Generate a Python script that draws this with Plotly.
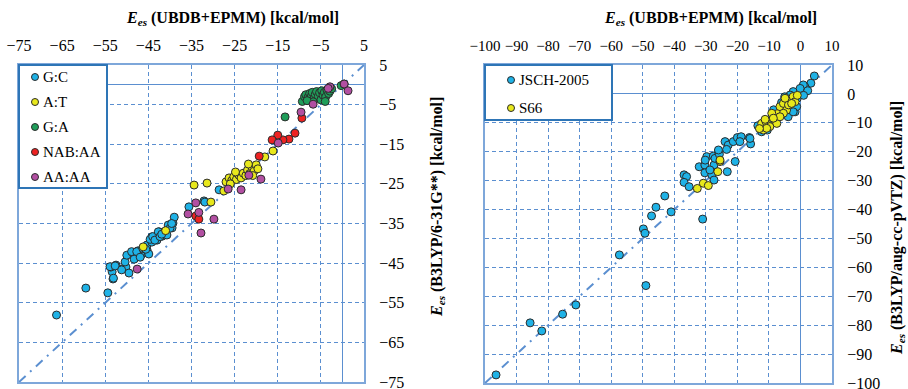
import plotly.graph_objects as go

# ---------------- data: left panel (B3LYP/6-31G** vs UBDB+EPMM) ----------------
gc_x = [-66.3, -59.5, -54.4, -53.2, -53.4, -53.7, -52.5, -51.1, -50.2, -50.4, -49.5, -50.0,
        -48.6, -48.1, -46.7, -47.4, -45.3, -44.9, -45.3, -44.2, -44.2, -43.0, -42.5, -41.8,
        -40.7, -39.5, -39.3, -39.0, -40.4, -35.6, -32.1, -28.6, -53.9, -52.7, -53.1, -51.2,
        -48.9, -48.3, -47.7, -46.9, -46.3, -45.6, -44.6, -44.0, -43.5, -42.7, -42.3, -41.9,
        -40.0, -39.6, -31.9]
gc_y = [-58.1, -51.3, -52.5, -49.0, -47.2, -46.0, -45.5, -46.5, -46.0, -44.7, -47.5, -43.0,
        -42.4, -43.7, -43.0, -41.9, -41.7, -42.7, -40.4, -39.7, -38.4, -39.2, -37.1, -38.2,
        -37.9, -36.1, -34.9, -33.4, -35.4, -30.8, -29.3, -26.5, -45.9, -45.7, -48.8, -46.7,
        -42.1, -44.0, -42.1, -43.5, -41.3, -41.5, -39.0, -38.3, -39.2, -37.1, -38.3, -37.7,
        -36.2, -35.0, -29.6]

at_x = [-34.4, -31.4, -30.5, -27.5, -18.0, -16.1, -41.0, -46.2, -33.6,
        -27.0, -26.3, -25.7, -25.2, -24.6, -24.0, -23.5, -23.0, -22.4, -22.0,
        -21.5, -21.0, -20.5, -20.0, -19.6, -21.8, -24.8, -26.0, -20.8]
at_y = [-25.3, -24.8, -29.6, -26.8, -18.2, -16.7, -36.8, -40.9, -33.0,
        -24.5, -23.5, -24.2, -23.2, -23.9, -22.8, -23.5, -22.3, -22.9, -21.5,
        -22.4, -20.7, -21.8, -20.2, -21.2, -20.0, -22.0, -25.0, -22.9]

ga_x = [-9.3, -8.8, -8.5, -8.0, -7.6, -7.2, -7.0, -6.6, -6.3, -6.0, -5.6, -5.3, -5.0, -4.8,
        -4.5, -4.2, -3.9, -3.6, -3.2, -2.9, -2.5, -4.0, -6.8, -8.2, -0.3, 0.4, -13.3]
ga_y = [-4.2, -3.0, -2.5, -3.2, -2.2, -2.8, -1.9, -3.5, -2.4, -1.7, -2.9, -2.0, -3.8, -1.5,
        -2.6, -1.9, -3.1, -1.3, -2.2, -1.6, -1.0, -4.2, -4.3, -4.0, -0.2, 0.2, -8.1]

nab_x = [-9.4, -11.0, -12.4, -13.8, -15.0, -16.3, -19.3, -34.0, -33.3]
nab_y = [-8.4, -12.2, -13.7, -13.9, -12.7, -13.9, -18.0, -33.1, -33.9]

aa_x = [-47.6, -35.8, -34.0, -33.3, -29.8, -32.8, -26.5, -23.5, -21.7, -18.9, -14.9,
        -9.6, -6.8, -2.9, -3.3, 0.4, 1.3]
aa_y = [-46.5, -32.6, -29.8, -32.2, -33.9, -37.4, -26.3, -26.5, -22.8, -23.8, -14.7,
        -6.9, -4.9, -0.5, -0.9, 0.2, -1.5]

# ---------------- data: right panel (B3LYP/aug-cc-pVTZ vs UBDB+EPMM) ----------------
jsch_x = [-96.5, -85.7, -82.0, -75.4, -71.2, -57.4, -49.0, -49.8, -49.3, -47.2, -45.8, -43.0,
          -41.0, -36.9, -36.1, -36.9, -35.3, -31.0, -32.1, -30.3, -29.7, -27.6, -27.4, -30.3,
          -28.1, -27.4, -28.7, -26.0, -23.2, -20.7, -30.2, -27.1, -25.7, -26.0, -23.9, -22.9,
          -23.4, -21.3, -20.0, -18.8, -19.2, -16.2, -15.8, -16.0,
          4.4, 3.3, 1.4, 0.4, 0.9, -0.7, -2.3, -3.3, -1.7, -4.4, -6.5, -8.1, -9.1, -10.5,
          -12.3, -0.1, 2.3, -1.2, -3.9, -2.3, -5.0, -1.0, -13.5, -6.0, -8.5, -2.8, 1.0]
jsch_y = [-97.2, -79.2, -82.0, -76.2, -73.0, -55.7, -66.3, -46.7, -48.2, -42.2, -39.2, -35.3,
          -40.8, -28.0, -28.6, -30.6, -32.1, -43.3, -25.2, -24.6, -21.7, -21.5, -24.6, -27.3,
          -28.0, -29.8, -26.3, -20.0, -26.9, -23.4, -22.9, -22.3, -20.9, -19.4, -16.5, -17.7,
          -19.2, -16.5, -15.1, -14.8, -16.5, -15.1, -17.3, -15.4,
          6.2, 3.7, 2.5, 0.8, 3.1, -0.4, 0.8, -0.4, -6.2, -2.1, -5.6, -7.3, -9.6, -12.5,
          -13.1, 1.9, 1.1, -4.4, -7.9, -6.2, -1.0, -1.5, -11.0, -3.0, -5.5, -2.6, -0.5]

s66_x = [-32.7, -30.8, -29.2, -25.5, -26.2, -25.5, -12.3, -11.8, -10.9, -9.7, -8.1, -7.0,
         -6.5, -5.4, -4.4, -3.3, -2.3, -1.7, -5.4, -7.5, -10.7, -9.1, -6.5, -3.8, -4.9,
         -2.8, -11.2, -8.6, -1.0, -13.0]
s66_y = [-32.7, -30.9, -31.7, -23.4, -26.9, -22.9, -10.2, -12.5, -9.6, -11.3, -9.0, -6.7,
         -4.4, -3.3, -5.6, -2.1, -0.9, -2.7, -6.7, -10.2, -11.9, -6.7, -7.9, -3.8, -1.5,
         -3.3, -8.8, -8.4, -0.5, -12.0]

left_ticks = [-75, -65, -55, -45, -35, -25, -15, -5, 5]
right_ticks = [-100, -90, -80, -70, -60, -50, -40, -30, -20, -10, 0, 10]

left_names = ["G:C", "A:T", "G:A", "NAB:AA", "AA:AA"]
right_names = ["JSCH-2005", "S66"]

# ---------------- styling ----------------
W, H = 908, 389
FONT = "Liberation Serif"
GRID = "#5b8fd0"
FRAME = "#7ea7da"
LEG_BORDER = "#2e75b6"
OUTLINE = "#2b2b2b"
BLUE, YELLOW, GREEN, RED, PURPLE = "#1fb2e6", "#e8e81c", "#1f9e5a", "#ee2222", "#b24fa2"

fig = go.Figure()

left_series = list(zip(left_names, [gc_x, at_x, ga_x, nab_x, aa_x],
                       [gc_y, at_y, ga_y, nab_y, aa_y], [BLUE, YELLOW, GREEN, RED, PURPLE]))
right_series = list(zip(right_names, [jsch_x, s66_x], [jsch_y, s66_y], [BLUE, YELLOW]))

DIAG = dict(color=GRID, width=2, dash="9px,6px,2px,6px")
fig.add_trace(go.Scatter(x=[left_ticks[0], left_ticks[-1]], y=[left_ticks[0], left_ticks[-1]],
                         mode="lines", line=DIAG, showlegend=False, hoverinfo="skip",
                         xaxis="x", yaxis="y"))
fig.add_trace(go.Scatter(x=[right_ticks[0], right_ticks[-1]], y=[right_ticks[0], right_ticks[-1]],
                         mode="lines", line=DIAG, showlegend=False, hoverinfo="skip",
                         xaxis="x2", yaxis="y2"))

for name, xs, ys, col in left_series:
    fig.add_trace(go.Scatter(x=xs, y=ys, mode="markers", name=name, showlegend=False,
                             marker=dict(size=8, color=col, line=dict(color=OUTLINE, width=1)),
                             xaxis="x", yaxis="y"))
for name, xs, ys, col in right_series:
    fig.add_trace(go.Scatter(x=xs, y=ys, mode="markers", name=name, showlegend=False,
                             marker=dict(size=8, color=col, line=dict(color=OUTLINE, width=1)),
                             xaxis="x2", yaxis="y2"))


def px_x(p):
    return p / W


def px_y(p):
    return 1 - p / H


axis_common = dict(
    showgrid=True, gridcolor=GRID, gridwidth=1, griddash="4px,3px",
    zeroline=True, zerolinecolor=GRID, zerolinewidth=1,
    showline=True, linecolor=FRAME, linewidth=2, mirror=True,
    ticks="", tickfont=dict(family=FONT, size=16, color="black"),
    automargin=False, tickangle=0, fixedrange=True, ticklabeloverflow="allow",
)

fig.update_layout(
    template="none",
    width=W, height=H,
    margin=dict(l=0, r=0, t=0, b=0, autoexpand=False),
    paper_bgcolor="white", plot_bgcolor="white",
    showlegend=False,
    xaxis=dict(domain=[px_x(19), px_x(364)], range=[-75, 5], side="top", anchor="y",
               tickvals=left_ticks, ticklabelstandoff=6, **axis_common),
    yaxis=dict(domain=[px_y(382), px_y(65)], range=[-75, 5], side="right", anchor="x",
               tickvals=left_ticks, ticklabelstandoff=10, **axis_common),
    xaxis2=dict(domain=[px_x(485), px_x(832)], range=[-100, 10], side="top", anchor="y2",
                tickvals=right_ticks, ticklabelstandoff=6, **axis_common),
    yaxis2=dict(domain=[px_y(383), px_y(65)], range=[-100, 10], side="right", anchor="x2",
                tickvals=right_ticks, ticklabelstandoff=10, **axis_common),
)
fig.update_xaxes(tickfont_size=15, selector=dict(anchor="y2"))

# ---------------- legend boxes (box, symbol, label) ----------------
def add_legend(x0, y0, x1, y1, entries, sym_x, txt_x, first_y, step):
    fig.add_shape(type="rect", xref="paper", yref="paper",
                  x0=px_x(x0), x1=px_x(x1), y0=px_y(y1), y1=px_y(y0),
                  line=dict(color=LEG_BORDER, width=2), fillcolor="white", layer="above")
    for k, (label, col) in enumerate(entries):
        cy = first_y + k * step
        fig.add_shape(type="circle", xref="paper", yref="paper",
                      x0=px_x(sym_x - 3.5), x1=px_x(sym_x + 3.5),
                      y0=px_y(cy + 3.5), y1=px_y(cy - 3.5),
                      line=dict(color=OUTLINE, width=1), fillcolor=col, layer="above")
        fig.add_annotation(xref="paper", yref="paper", x=px_x(txt_x), y=px_y(cy),
                           xanchor="left", yanchor="middle", showarrow=False, text=label,
                           font=dict(family=FONT, size=15, color="black"))


add_legend(19, 65, 107, 188, list(zip(left_names, [BLUE, YELLOW, GREEN, RED, PURPLE])),
           35, 41, 77, 25)
add_legend(485, 65, 612, 120, list(zip(right_names, [BLUE, YELLOW])),
           511, 517, 80, 28)

title_x = "<b><i>E<sub>es</sub></i> (UBDB+EPMM) [kcal/mol]</b>"
annos = [
    dict(text=title_x, x=px_x(232), y=px_y(18)),
    dict(text=title_x, x=px_x(710), y=px_y(18)),
    dict(text="<b><i>E<sub>es</sub></i> (B3LYP/6-31G**) [kcal/mol]</b>", x=px_x(437), y=px_y(207),
         textangle=-90),
    dict(text="<b><i>E<sub>es</sub></i> (B3LYP/aug-cc-pVTZ) [kcal/mol]</b>", x=px_x(897), y=px_y(228),
         textangle=-90),
]
for a in annos:
    fig.add_annotation(xref="paper", yref="paper", showarrow=False,
                       xanchor="center", yanchor="middle",
                       font=dict(family=FONT, size=16, color="black"), **a)

# remove the browser's default 8px page margin so the figure sits at the window origin
fig.write_html("out.html", config={"displayModeBar": False},
               post_script="document.body.style.margin='0';")
